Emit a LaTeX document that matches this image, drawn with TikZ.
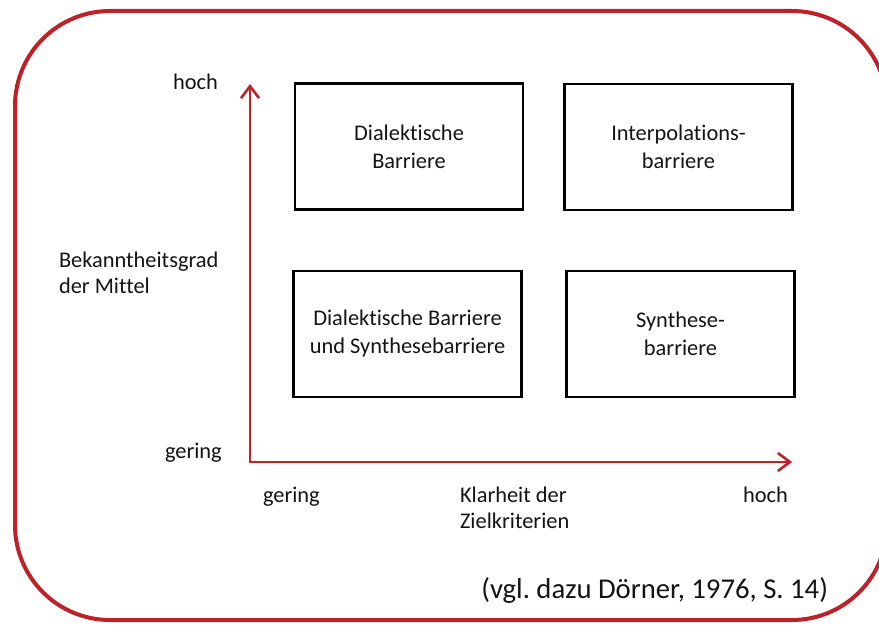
\documentclass[tikz,border=0pt]{standalone}
\usepackage{fontspec}
\setmainfont{Carlito}[Ligatures=NoCommon]
\usetikzlibrary{arrows.meta}
\definecolor{framered}{RGB}{190,34,40}
\definecolor{txt}{RGB}{20,20,20}
\tikzset{
  lbl/.style={inner sep=0pt, outer sep=0pt, text=txt, font=\fontsize{22.4}{26}\selectfont, align=left},
  barrier/.style={draw=black, line width=2.2pt, minimum width=228pt, minimum height=126pt, inner sep=0pt,
    text=txt, font=\fontsize{22.4}{28}\selectfont, align=center},
  axis/.style={draw=framered, line width=2.6pt, line join=miter,
    {Straight Barb[length=12pt,width=18pt]}-{Straight Barb[length=12pt,width=18pt]}},
  frame/.style={draw=framered, line width=4pt, rounded corners=95pt}
}
\begin{document}
\begin{tikzpicture}[x=1pt,y=-1pt]
\useasboundingbox (0,0) rectangle (879,626);
\clip (0,0) rectangle (879,626);
\fill[white] (0,0) rectangle (879,626);
% outer frame
\draw[frame] (15,11) rectangle (887,620);
% axes
\coordinate (ytop) at (250,84);
\coordinate (origin) at (250,462);
\coordinate (xend) at (792,462);
\draw[axis] (ytop) -- (origin) -- (xend);
% boxes
\node[barrier] (dia) at (409,146.5) {Dialektische\\Barriere};
\node[barrier] (interp) at (678.5,147) {Interpolations-\\barriere};
\node[barrier] (diasyn) at (407.5,334) {Dialektische Barriere\\und Synthesebarriere};
\node[barrier] (syn) at (680.5,334) {Synthese-\\barriere};
% axis labels
\node[lbl, anchor=base west] (yhigh) at (173,90) {hoch};
\node[lbl, anchor=base west] (ylab) at (59,293) {Bekanntheitsgrad\\der Mittel};
\node[lbl, anchor=base west] (ylow) at (165,458) {gering};
\node[lbl, anchor=base west] (xlow) at (263,502) {gering};
\node[lbl, anchor=base west] (xlab) at (460,528) {Klarheit der\\Zielkriterien};
\node[lbl, anchor=base west] (xhigh) at (743,502) {hoch};
% citation
\node[lbl, anchor=base east, font=\fontsize{28.7}{34}\selectfont] (cite) at (828,598) {(vgl.\ dazu Dörner, 1976, S.\ 14)};
\end{tikzpicture}
\end{document}
